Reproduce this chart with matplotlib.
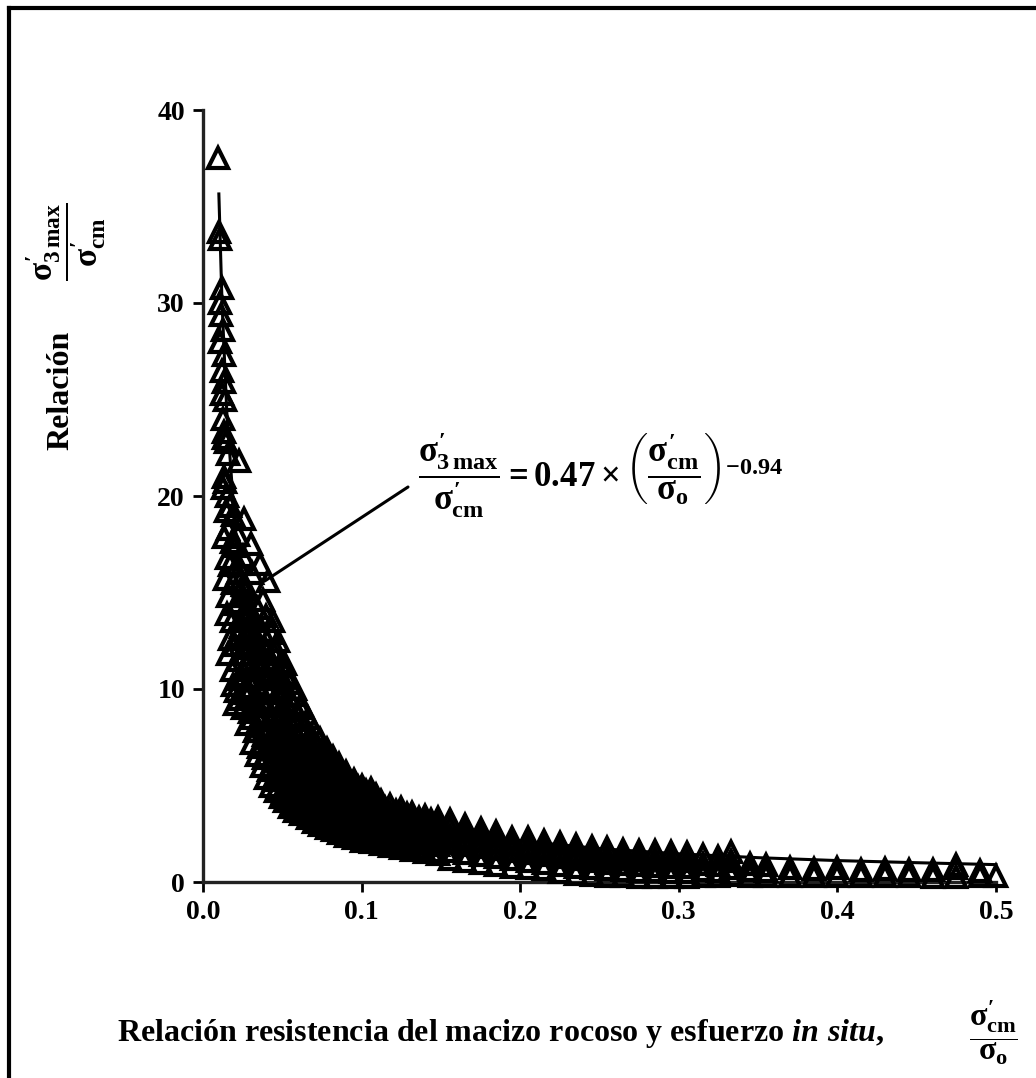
import matplotlib
matplotlib.use('Agg')
import matplotlib.pyplot as plt
from matplotlib.lines import Line2D

plt.rcParams['font.family'] = ['Liberation Serif', 'DejaVu Serif']
plt.rcParams['font.weight'] = 'bold'
plt.rcParams['mathtext.fontset'] = 'custom'
plt.rcParams['mathtext.rm'] = 'Liberation Serif:bold'
plt.rcParams['mathtext.it'] = 'Liberation Serif:bold'
plt.rcParams['mathtext.bf'] = 'Liberation Serif:bold'
plt.rcParams['mathtext.sf'] = 'Liberation Serif:bold:italic'

# datos leidos de la figura
# parte empinada (x < 0.03)
x_steep = [0.0095, 0.010, 0.0105, 0.012, 0.011, 0.0115, 0.0125, 0.011, 0.013, 0.012,
           0.0135, 0.012, 0.014, 0.0125, 0.013, 0.0135, 0.0145, 0.016, 0.013, 0.014,
           0.0125, 0.015, 0.017, 0.0145, 0.019, 0.016, 0.0135, 0.018, 0.0205, 0.015,
           0.017, 0.022, 0.014, 0.019, 0.025, 0.016, 0.021, 0.027, 0.015, 0.018,
           0.024, 0.030, 0.017, 0.020, 0.026, 0.016, 0.022, 0.028, 0.018, 0.024,
           0.019, 0.021, 0.027, 0.023, 0.020,
           0.023, 0.026, 0.030, 0.036, 0.041, 0.038, 0.044, 0.047, 0.052, 0.058, 0.062]
y_steep = [37.5, 33.7, 33.3, 30.8, 30.0, 29.4, 28.6, 28.0, 27.3, 26.5,
           25.9, 25.3, 25.0, 24.0, 23.3, 23.0, 22.8, 22.2, 21.0, 20.7,
           20.4, 20.0, 19.5, 19.2, 19.0, 18.3, 17.9, 17.6, 17.4, 16.8,
           16.4, 16.0, 15.7, 15.5, 15.4, 14.8, 14.4, 14.0, 13.9, 13.5,
           13.2, 13.0, 12.6, 12.3, 12.1, 11.8, 11.5, 11.3, 11.0, 10.7,
           10.2, 9.9, 10.0, 9.5, 9.2,
           21.8, 18.8, 17.5, 16.5, 15.6, 14.6, 13.5, 12.5, 11.3, 10.0, 9.2]

# codo (0.02 - 0.15): columnas x con sus valores y
x_knee = [0.022, 0.025, 0.028, 0.031, 0.034, 0.037, 0.040, 0.043, 0.046, 0.049,
          0.052, 0.055, 0.058, 0.062, 0.066, 0.070, 0.074, 0.078, 0.082, 0.086,
          0.090, 0.095, 0.100, 0.106, 0.112, 0.118, 0.125, 0.132, 0.140, 0.148]
y_knee = [[12.8, 14.5, 16.5, 18.0],
          [9.0, 11.0, 12.6, 14.8, 16.9],
          [8.2, 9.6, 11.2, 13.0, 15.2],
          [7.2, 8.5, 10.1, 11.8, 13.6, 16.0],
          [6.6, 7.8, 9.3, 10.6, 12.4, 14.2],
          [6.0, 7.1, 8.6, 9.8, 11.3, 13.0],
          [5.4, 6.5, 7.9, 9.2, 10.6, 12.0, 13.8],
          [5.0, 6.0, 7.3, 8.5, 9.9, 11.2, 12.9],
          [4.7, 5.6, 6.8, 8.0, 9.3, 10.6, 12.0],
          [4.4, 5.3, 6.3, 7.5, 8.7, 10.0, 11.4],
          [4.2, 5.0, 6.0, 7.0, 8.2, 9.4, 10.8],
          [3.9, 4.7, 5.6, 6.6, 7.7, 8.9, 10.3],
          [3.7, 4.5, 5.3, 6.2, 7.3, 8.4, 9.7],
          [3.5, 4.2, 5.0, 5.9, 6.8, 7.9, 9.0],
          [3.3, 4.0, 4.8, 5.6, 6.4, 7.4, 8.5],
          [3.1, 3.8, 4.5, 5.2, 6.0, 6.9, 7.9],
          [2.95, 3.6, 4.3, 5.0, 5.7, 6.5, 7.4],
          [2.8, 3.4, 4.0, 4.7, 5.4, 6.1, 6.9],
          [2.7, 3.2, 3.8, 4.4, 5.1, 5.8, 6.5],
          [2.55, 3.1, 3.6, 4.2, 4.8, 5.5, 6.1],
          [2.4, 2.9, 3.4, 4.0, 4.6, 5.2, 5.7],
          [2.3, 2.8, 3.3, 3.8, 4.3, 4.9, 5.3],
          [2.15, 2.7, 3.1, 3.6, 4.1, 4.6, 5.0],
          [2.05, 2.5, 3.0, 3.4, 3.9, 4.4, 4.8],
          [1.95, 2.4, 2.85, 3.3, 3.7, 4.2],
          [1.85, 2.3, 2.7, 3.15, 3.55, 4.0],
          [1.75, 2.2, 2.6, 3.0, 3.4, 3.85],
          [1.65, 2.1, 2.5, 2.9, 3.25, 3.6],
          [1.55, 2.0, 2.4, 2.75, 3.1, 3.4],
          [1.45, 1.9, 2.3, 2.65, 3.0, 3.3]]

# puntos intermedios del codo
x_knee2 = [0.0235, 0.0265, 0.0295, 0.0325, 0.0355, 0.0385, 0.0415, 0.0445, 0.0475,
           0.0505, 0.0535, 0.0565, 0.060, 0.064, 0.068, 0.072, 0.076, 0.080, 0.084,
           0.088, 0.0925, 0.0975, 0.103, 0.109, 0.115, 0.1215, 0.1285, 0.136, 0.144]
y_knee2 = [[10.5, 13.6, 15.6],
           [9.8, 11.8, 13.8],
           [8.8, 10.5, 12.2, 14.1],
           [7.8, 9.2, 11.0, 12.8],
           [7.0, 8.4, 10.0, 11.9],
           [6.4, 7.6, 9.1, 10.5, 12.2],
           [5.8, 7.0, 8.4, 9.8, 11.3],
           [5.3, 6.4, 7.8, 9.1, 10.5, 11.8],
           [4.9, 6.0, 7.2, 8.5, 9.8, 11.0],
           [4.6, 5.6, 6.7, 7.9, 9.1, 10.3],
           [4.3, 5.3, 6.3, 7.4, 8.5, 9.7],
           [4.1, 5.0, 5.9, 6.9, 8.0, 9.2],
           [3.85, 4.7, 5.6, 6.5, 7.5, 8.6],
           [3.6, 4.4, 5.3, 6.2, 7.1, 8.1],
           [3.4, 4.2, 5.0, 5.8, 6.7, 7.6],
           [3.2, 3.9, 4.7, 5.4, 6.2, 7.1],
           [3.05, 3.7, 4.4, 5.1, 5.9, 6.7],
           [2.9, 3.5, 4.2, 4.8, 5.6, 6.3],
           [2.75, 3.35, 3.95, 4.6, 5.3, 5.9],
           [2.6, 3.2, 3.75, 4.35, 5.0, 5.6],
           [2.45, 3.0, 3.55, 4.1, 4.7, 5.2],
           [2.35, 2.9, 3.4, 3.9, 4.45, 4.9],
           [2.2, 2.75, 3.25, 3.75, 4.2, 4.7],
           [2.1, 2.6, 3.1, 3.55, 4.0, 4.5],
           [2.0, 2.5, 2.95, 3.4, 3.85],
           [1.9, 2.4, 2.8, 3.25, 3.7],
           [1.8, 2.3, 2.7, 3.1, 3.5],
           [1.7, 2.2, 2.6, 2.95, 3.3],
           [1.6, 2.1, 2.5, 2.85, 3.2]]

# cola (x > 0.15)
x_tail = [0.156, 0.165, 0.175, 0.185, 0.195, 0.205, 0.215, 0.225, 0.235, 0.245,
          0.255, 0.265, 0.275, 0.285, 0.295, 0.305, 0.315, 0.325, 0.333, 0.345,
          0.355, 0.370, 0.385, 0.400, 0.415, 0.430, 0.445, 0.460, 0.475, 0.490, 0.500]
y_tail = [[1.2, 1.6, 2.0, 2.4, 2.8, 3.2],
          [1.1, 1.5, 1.9, 2.3, 2.65, 2.95],
          [1.0, 1.4, 1.8, 2.2, 2.5, 2.75],
          [0.9, 1.3, 1.7, 2.05, 2.4, 2.6],
          [0.8, 1.2, 1.6, 1.95, 2.3],
          [0.75, 1.1, 1.5, 1.85, 2.3],
          [0.65, 1.0, 1.4, 1.75, 2.1],
          [0.5, 0.9, 1.3, 1.65, 2.0],
          [0.4, 0.8, 1.2, 1.55, 1.9],
          [0.35, 0.7, 1.1, 1.45, 1.8],
          [0.3, 0.65, 1.0, 1.35, 1.75],
          [0.3, 0.6, 0.95, 1.3, 1.65],
          [0.25, 0.55, 0.9, 1.25, 1.6],
          [0.25, 0.55, 0.85, 1.2, 1.6],
          [0.25, 0.5, 0.8, 1.15, 1.55],
          [0.25, 0.5, 0.8, 1.1, 1.5],
          [0.3, 0.6, 0.95, 1.4],
          [0.3, 0.55, 0.9, 1.3],
          [0.35, 0.7, 1.1, 1.55],
          [0.3, 0.6, 0.95],
          [0.3, 0.55, 0.9],
          [0.3, 0.7],
          [0.3, 0.65],
          [0.3, 0.7],
          [0.3, 0.6],
          [0.3, 0.65],
          [0.3, 0.6],
          [0.25, 0.6],
          [0.25, 0.7, 0.9],
          [0.3, 0.55],
          [0.3]]

# curva de ajuste 0.47 x^-0.94
x_fit = [0.010, 0.012, 0.015, 0.02, 0.025, 0.03, 0.04, 0.05, 0.06, 0.08, 0.10,
         0.13, 0.16, 0.20, 0.25, 0.30, 0.35, 0.40, 0.45, 0.50]
y_fit = [35.65, 30.0, 24.35, 18.58, 15.07, 12.69, 9.69, 7.85, 6.62, 5.05, 4.09,
         3.20, 2.63, 2.13, 1.73, 1.46, 1.26, 1.11, 1.00, 0.90]

xticks = [0.0, 0.1, 0.2, 0.3, 0.4, 0.5]
yticks = [0, 10, 20, 30, 40]

fig = plt.figure(figsize=(10.36, 10.78), dpi=100)
ax = fig.add_axes([203/1036, 1-882/1078, 793/1036, 772/1078])

xs, ys = [], []
for x, y in zip(x_steep, y_steep):
    xs.append(x); ys.append(y)
for xl, yl in [(x_knee, y_knee), (x_knee2, y_knee2), (x_tail, y_tail)]:
    for x, col in zip(xl, yl):
        for y in col:
            xs.append(x); ys.append(y)

ax.plot(x_fit, y_fit, color='black', lw=2.2, zorder=2, clip_on=False)
ax.plot(xs, ys, linestyle='none', marker='^', ms=15, mfc='none', mec='black',
        mew=3.0, zorder=3, clip_on=False)

ax.set_xlim(0, 0.5)
ax.set_ylim(0, 40)
ax.set_xticks(xticks)
ax.set_yticks(yticks)
ax.set_xticklabels(['%.1f' % t for t in xticks])
for s in ['top', 'right']:
    ax.spines[s].set_visible(False)
for s in ['left', 'bottom']:
    ax.spines[s].set_linewidth(2.4)
    ax.spines[s].set_color('#222222')
ax.tick_params(direction='out', length=7, width=2, labelsize=20, pad=6)
for lbl in ax.get_xticklabels() + ax.get_yticklabels():
    lbl.set_fontweight('bold')

# etiquetas de ejes
fig.text(61/1036, 1-390/1078, 'Relación', rotation=90, ha='center', va='center',
         fontsize=23, fontweight='bold')
fig.text(66/1036, 1-242/1078, r"$\dfrac{\sigma^{\prime}_{3\,max}}{\sigma^{\prime}_{cm}}$",
         rotation=90, ha='center', va='center', fontsize=24)
fig.text(500/1036, 1-1033/1078,
         r'Relación resistencia del macizo rocoso y esfuerzo $\mathsf{in\ situ}$,',
         ha='center', va='center', fontsize=23, fontweight='bold')
fig.text(993/1036, 1-1033/1078, r"$\dfrac{\sigma^{\prime}_{cm}}{\sigma_o}$", ha='center',
         va='center', fontsize=23)

# ecuacion
ax.annotate('', xy=(0.039, 15.6), xycoords='data', xytext=(408, 1078-487),
            textcoords='figure pixels',
            arrowprops=dict(arrowstyle='-', lw=2.2, color='black', shrinkA=0, shrinkB=0))
fig.text(418/1036, 1-475/1078,
         r"$\dfrac{\sigma^{\prime}_{3\,max}}{\sigma^{\prime}_{cm}} = 0.47 \times \left(\dfrac{\sigma^{\prime}_{cm}}{\sigma_o}\right)^{-0.94}$",
         ha='left', va='center', fontsize=25)

# marco exterior
fig.add_artist(Line2D([9/1036, 9/1036], [0, 1-8/1078], color='black', lw=3,
                      transform=fig.transFigure))
fig.add_artist(Line2D([9/1036, 1], [1-8/1078, 1-8/1078], color='black', lw=3,
                      transform=fig.transFigure))

fig.savefig('out.png', dpi=100)
